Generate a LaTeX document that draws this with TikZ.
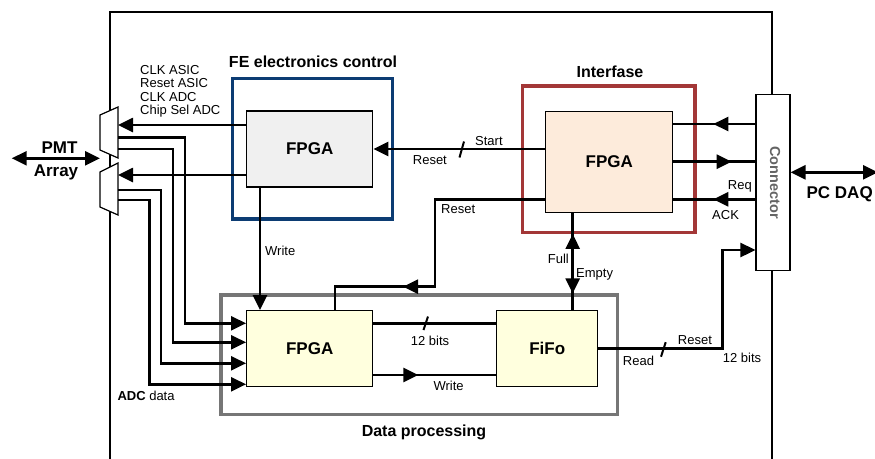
\documentclass[tikz,border=0pt]{standalone}
\usepackage{fontspec}
\setmainfont{Liberation Sans}
\usetikzlibrary{arrows.meta,calc}
\definecolor{feblue}{RGB}{12,60,115}
\definecolor{ifred}{RGB}{163,55,55}
\definecolor{dpgray}{RGB}{118,118,118}
\definecolor{fegray}{RGB}{240,240,240}
\definecolor{ifpeach}{RGB}{253,235,219}
\definecolor{dpyellow}{RGB}{255,255,222}
\definecolor{conngray}{RGB}{100,100,100}
\begin{document}
\begin{tikzpicture}[x=1pt,y=-1pt,
  sig/.style={line width=2.6pt},
  tip/.style={-{Triangle[length=15pt,width=14pt]}},
  dtip/.style={{Triangle[length=15pt,width=14pt]}-{Triangle[length=15pt,width=14pt]}},
  slash/.style={line width=2pt},
  chip/.style={draw,line width=1.3pt,inner sep=0pt,font=\fontsize{17}{20}\selectfont\bfseries},
  grp/.style={draw,line width=3.2pt,inner sep=0pt},
  lbl/.style={inner sep=0pt,anchor=base west,font=\fontsize{13}{15}\selectfont},
  ttl/.style={inner sep=0pt,anchor=base,font=\fontsize{16}{19}\selectfont\bfseries},
  big/.style={inner sep=0pt,anchor=base,font=\fontsize{17}{20}\selectfont\bfseries},
  mux/.style={line width=1.2pt,fill=white}
]
\useasboundingbox (0,0) rectangle (875,458);

% outer frame
\draw[line width=2.8pt] (110,470) -- (110,12) -- (772,12) -- (772,470);

% group boxes
\node[grp,draw=feblue,minimum width=160.4pt,minimum height=140.7pt] (febox) at (312.5,148.7) {};
\node[grp,draw=ifred,minimum width=172.3pt,minimum height=146.3pt] (ibox) at (608.9,159.2) {};
\node[grp,draw=dpgray,minimum width=396.7pt,minimum height=119.3pt] (dpbox) at (419.4,354.7) {};

% multiplexers
\draw[mux] (100,115) -- (118,107) -- (118,158) -- (100,150) -- cycle;
\draw[mux] (100,172) -- (118,163) -- (118,215) -- (100,207) -- cycle;

% chips
\node[chip,fill=fegray,minimum width=126pt,minimum height=76pt] (fefpga) at (309.7,149) {FPGA};
\node[chip,fill=ifpeach,minimum width=127pt,minimum height=101pt] (ifpga) at (609.3,161.7) {FPGA};
\node[chip,fill=dpyellow,minimum width=126pt,minimum height=76pt] (dpfpga) at (309.7,348.7) {FPGA};
\node[chip,fill=dpyellow,minimum width=101pt,minimum height=76pt] (fifo) at (547.2,348.7) {FiFo};
\node[draw,line width=1.1pt,fill=white,inner sep=0pt,minimum width=34pt,minimum height=176.4pt] (conn) at (773,182.5) {};
\node[rotate=-90,inner sep=0pt,text=conngray,font=\fontsize{14.5}{17}\selectfont\bfseries] (conntext) at (775,182.5) {Connector};

% coordinates
\coordinate (mA) at (118,125);
\coordinate (mB) at (118,175);
\coordinate (o1) at (118,137.3);
\coordinate (o2) at (118,149);
\coordinate (o3) at (118,190);
\coordinate (o4) at (118,200);
\coordinate (c1) at (185,323.3);
\coordinate (c2) at (173,342.3);
\coordinate (c3) at (161,363.3);
\coordinate (c4) at (149.3,384.3);
\coordinate (wx) at (260,0);
\coordinate (r1) at (435,199.3);
\coordinate (r2) at (435,286.7);
\coordinate (r3) at (403,286.7);
\coordinate (r4) at (335,286.7);
\coordinate (k1) at (0,124);
\coordinate (k2) at (0,161.7);
\coordinate (k3) at (0,199.3);
\coordinate (t1) at (713.3,124);
\coordinate (t2) at (731.7,161.7);
\coordinate (t3) at (713.3,199.3);
\coordinate (fx) at (572.7,0);
\coordinate (q1) at (722.3,348.7);
\coordinate (q2) at (722.3,250);
\coordinate (b12) at (0,323.3);
\coordinate (wr) at (0,375);
\coordinate (wrt) at (418.3,375);
\coordinate (pcy) at (0,172.3);
\coordinate (pcR) at (878,172.3);
\coordinate (pmL) at (11.7,158.3);
\coordinate (pmR) at (100,158.3);

% PMT / PC DAQ
\draw[sig,dtip] (pmL) -- (pmR);
\draw[sig,dtip] (conn.east |- pcy) -- (pcR);

% FE control to muxes
\draw[sig,tip] (fefpga.west |- mA) -- (mA);
\draw[sig,tip] (fefpga.west |- mB) -- (mB);

% ADC data
\draw[sig,tip] (o1) -| (c1) -- (c1 -| dpfpga.west);
\draw[sig,tip] (o2) -| (c2) -- (c2 -| dpfpga.west);
\draw[sig,tip] (o3) -| (c3) -- (c3 -| dpfpga.west);
\draw[sig,tip] (o4) -| (c4) -- (c4 -| dpfpga.west);

% Write FE -> DP
\draw[sig,tip] (fefpga.south -| wx) -- (dpfpga.north -| wx);

% Start/Reset
\draw[sig,tip] (ifpga.west |- fefpga.east) -- (fefpga.east);
\draw[slash] (459.5,157.5) -- (464,141.5);

% Reset to DP
\draw[sig] (ifpga.west |- r1) -- (r1) -- (r2) -- (r4) -- (dpfpga.north -| r4);
\draw[sig,tip] (r2) -- (r3);

% Interfase <-> connector
\draw[sig] (ifpga.east |- k1) -- (conn.west |- k1);
\draw[sig,tip] (conn.west |- k1) -- (t1);
\draw[sig] (ifpga.east |- k2) -- (conn.west |- k2);
\draw[sig,tip] (ifpga.east |- k2) -- (t2);
\draw[sig] (ifpga.east |- k3) -- (conn.west |- k3);
\draw[sig,tip] (conn.west |- k3) -- (t3);

% Full / Empty
\draw[sig] (ifpga.south -| fx) -- (fifo.north -| fx);
\draw[sig,dtip] (ibox.south -| fx) -- (dpbox.north -| fx);

% FiFo -> connector
\draw[sig,tip] (fifo.east) -- (q1) -- (q2) -- (conn.west |- q2);
\draw[slash] (661,356.7) -- (665.7,342.2);

% DP FPGA -> FiFo
\draw[sig] (dpfpga.east |- b12) -- (fifo.west |- b12);
\draw[slash] (423.5,330) -- (428,316.5);
\draw[sig] (dpfpga.east |- wr) -- (fifo.west |- wr);
\draw[sig,tip] (dpfpga.east |- wr) -- (wrt);

% titles
\node[ttl] (tfe) at (313,67.7) {FE electronics control};
\node[ttl] (tif) at (610,77.3) {Interfase};
\node[ttl] (tdp) at (424,436.7) {Data processing};
\node[big] (tpmt) at (59.5,153.3) {PMT};
\node[big] (tarr) at (56,176.7) {Array};
\node[big] (tpc) at (839.7,198.3) {PC DAQ};

% labels
\node[lbl] (l1) at (140,74) {CLK ASIC};
\node[lbl] (l2) at (140,87.5) {Reset ASIC};
\node[lbl] (l3) at (140,101.5) {CLK ADC};
\node[lbl] (l4) at (140,114.5) {Chip Sel ADC};
\node[lbl] (lstart) at (475,145) {Start};
\node[lbl] (lreset1) at (412.7,164) {Reset};
\node[lbl] (lreset2) at (441,213.3) {Reset};
\node[lbl] (lwrite1) at (265,255.7) {Write};
\node[lbl] (lreq) at (727.7,189.3) {Req};
\node[lbl] (lack) at (712,219.3) {ACK};
\node[lbl] (lfull) at (547.7,263.3) {Full};
\node[lbl] (lempty) at (576,277.3) {Empty};
\node[lbl] (lbits1) at (410.7,345) {12 bits};
\node[lbl] (lwrite2) at (433.3,390) {Write};
\node[lbl] (lreset3) at (677.7,344) {Reset};
\node[lbl] (lread) at (622.7,365.7) {Read};
\node[lbl] (lbits2) at (722.7,362.3) {12 bits};
\node[lbl] (ladc) at (117.3,400.7) {\textbf{ADC} data};
\end{tikzpicture}
\end{document}
